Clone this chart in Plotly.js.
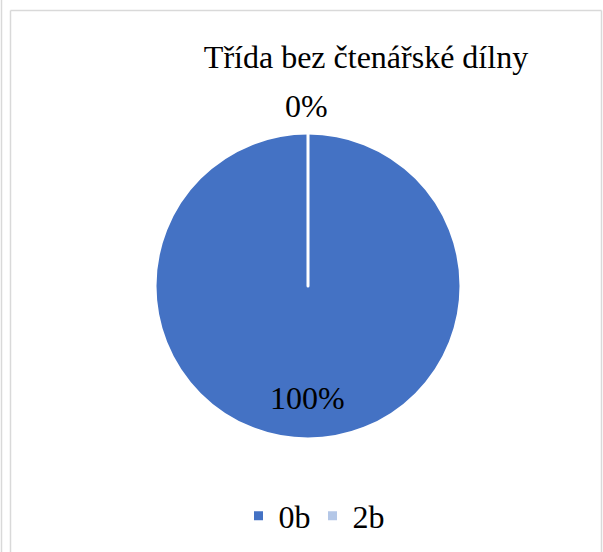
<!DOCTYPE html>
<html><head><meta charset="utf-8">
<script src="https://cdn.plot.ly/plotly-3.0.1.min.js"></script>
<style>html,body{margin:0;padding:0;background:#fff}#chart{width:603px;height:552px}</style>
</head><body><div id="chart"></div>
<script>
const chartTitle = "Třída bez čtenářské dílny";
const categories = ["0b", "2b"];
const values = [100, 0];
const colors = ["#4472C4", "#B4C7E7"];
const W = 603, H = 552;
const FONT = "Liberation Serif, Times New Roman, serif";

const total = values.reduce((a, b) => a + b, 0);
const pctLabels = values.map(v => Math.round(v / total * 100) + "%");
// label positions (pixel) for each slice's data label
const labelPos = [[307, 398], [306, 106]];

const trace = {
  type: "pie",
  labels: categories,
  values: values,
  sort: false,
  direction: "clockwise",
  rotation: 0,
  marker: {colors: colors, line: {color: "#ffffff", width: 3}},
  textinfo: "none",
  showlegend: true,
  hoverinfo: "none",
  domain: {x: [155/W, 461/W], y: [1-439/H, 1-133/H]}
};

const annotations = pctLabels.map((t, i) => ({
  text: t, xref: "paper", yref: "paper",
  x: labelPos[i][0] / W, y: 1 - labelPos[i][1] / H,
  xanchor: "center", yanchor: "middle", showarrow: false,
  font: {family: FONT, size: 32, color: "#000000"}
}));

const layout = {
  width: W, height: H,
  margin: {l: 0, r: 0, t: 0, b: 0},
  paper_bgcolor: "#ffffff",
  title: {text: chartTitle, x: 366/W, y: 1-57/H, xanchor: "center", yanchor: "middle", xref: "paper", yref: "paper",
          font: {family: FONT, size: 32, color: "#000000"}},
  legend: {orientation: "h", x: 312.5/W, y: 1-516/H, xanchor: "center", yanchor: "middle",
           font: {family: FONT, size: 32, color: "#000000"}, itemwidth: 30,
           entrywidth: 29, entrywidthmode: "pixels"},
  annotations: annotations,
  shapes: [
    {type: "line", xref: "paper", yref: "paper", x0: 10.5/W, x1: 10.5/W, y0: 0, y1: 1-10.5/H, line: {color: "#D9D9D9", width: 1.5}},
    {type: "line", xref: "paper", yref: "paper", x0: 10.5/W, x1: 601.5/W, y0: 1-10.5/H, y1: 1-10.5/H, line: {color: "#D9D9D9", width: 1.5}},
    {type: "line", xref: "paper", yref: "paper", x0: 601.5/W, x1: 601.5/W, y0: 0, y1: 1-10.5/H, line: {color: "#D9D9D9", width: 1.5}},
    {type: "line", xref: "paper", yref: "paper", x0: 1.5/W, x1: 1.5/W, y0: 0, y1: 1, line: {color: "#D9D9D9", width: 1.5}}
  ]
};

Plotly.newPlot("chart", [trace], layout, {displayModeBar: false, staticPlot: true});
</script></body></html>
